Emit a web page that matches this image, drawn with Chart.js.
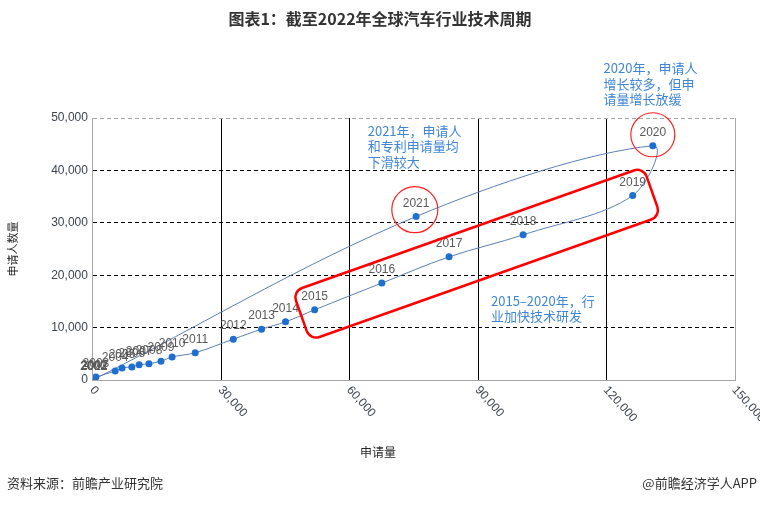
<!DOCTYPE html>
<html>
<head>
<meta charset="utf-8">
<script src="https://cdn.jsdelivr.net/npm/chart.js@4.4.1/dist/chart.umd.min.js"></script>
<style>
html,body{margin:0;padding:0;background:#fff}
#wrap{width:760px;height:505px;position:relative}
</style>
</head>
<body>
<div id="wrap"><canvas id="c" width="760" height="505"></canvas></div>
<script>
// 年份，申请量（x），申请人数量（y）
var years = ['2000','2001','2002','2003','2004','2005','2006','2007','2008','2009','2010',
             '2011','2012','2013','2014','2015','2016','2017','2018','2019','2020','2021','2022'];
var applications = [100, 200, 350, 700, 5200, 6800, 9100, 10800, 13100, 15900, 18500,
                    23900, 32800, 39400, 45000, 51800, 67500, 83200, 100500, 126100, 130800, 75500, 300];
var applicants = [80, 150, 250, 550, 1700, 2300, 2500, 2900, 3100, 3600, 4400,
                  5200, 7800, 9700, 11100, 13400, 18500, 23500, 27700, 35200, 44700, 31200, 150];

var xTicks = [0, 30000, 60000, 90000, 120000, 150000];
var yTicks = [0, 10000, 20000, 30000, 40000, 50000];

var points = [];
for (var i = 0; i < years.length; i++) {
  points.push({x: applications[i], y: applicants[i]});
}

var FONT = '"Liberation Sans", "Noto Sans CJK SC", sans-serif';
var CJK = '"Noto Sans CJK SC", "Liberation Sans", sans-serif';
Chart.defaults.font.family = FONT;

function fmt(v) {
  return v.toLocaleString('en-US');
}

// 年份标签
var yearLabels = {
  id: 'yearLabels',
  afterDatasetsDraw: function(chart) {
    var ctx = chart.ctx;
    var meta = chart.getDatasetMeta(0);
    ctx.save();
    ctx.font = '12px ' + FONT;
    ctx.fillStyle = '#595959';
    ctx.textAlign = 'center';
    ctx.textBaseline = 'middle';
    meta.data.forEach(function(pt, i) {
      ctx.fillText(years[i], pt.x, pt.y - 13);
    });
    ctx.restore();
  }
};

// 标注：红框、红圈、说明文字
var circles = [
  {x: 75200, y: 32500, r: 23},
  {x: 130800, y: 46800, r: 22}
];
var box = {x: 89650, y: 24100, w: 372, h: 52, angle: -19.5, r: 10};
var notes = [
  {x: 64200, y: 47600, lines: ['2021年，申请人', '和专利申请量均', '下滑较大']},
  {x: 119300, y: 59500, lines: ['2020年，申请人', '增长较多，但申', '请量增长放缓']},
  {x: 93000, y: 15100, lines: ['2015–2020年，行', '业加快技术研发']}
];

var decor = {
  id: 'decor',
  afterDraw: function(chart) {
    var ctx = chart.ctx;
    var xs = chart.scales.x, ys = chart.scales.y;
    ctx.save();

    // x 轴刻度标签（顺时针倾斜）
    ctx.font = '12px ' + FONT;
    ctx.fillStyle = '#3d4450';
    ctx.textAlign = 'left';
    ctx.textBaseline = 'middle';
    xTicks.forEach(function(v) {
      ctx.save();
      ctx.translate(xs.getPixelForValue(v) - 1, xs.bottom + 8);
      ctx.rotate(48 * Math.PI / 180);
      ctx.fillText(fmt(v), 0, 0);
      ctx.restore();
    });

    // 红色圆角框
    ctx.save();
    ctx.translate(xs.getPixelForValue(box.x), ys.getPixelForValue(box.y));
    ctx.rotate(box.angle * Math.PI / 180);
    ctx.beginPath();
    ctx.roundRect(-box.w / 2, -box.h / 2, box.w, box.h, box.r);
    ctx.strokeStyle = '#ff0000';
    ctx.lineWidth = 2.5;
    ctx.stroke();
    ctx.restore();

    // 红圈
    ctx.strokeStyle = '#ff2020';
    ctx.lineWidth = 1.2;
    circles.forEach(function(c) {
      ctx.beginPath();
      ctx.arc(xs.getPixelForValue(c.x), ys.getPixelForValue(c.y), c.r, 0, Math.PI * 2);
      ctx.stroke();
    });

    // 说明文字
    ctx.font = '13px ' + CJK;
    ctx.fillStyle = '#3f86d9';
    ctx.textAlign = 'left';
    ctx.textBaseline = 'middle';
    notes.forEach(function(n) {
      var px = xs.getPixelForValue(n.x), py = ys.getPixelForValue(n.y);
      n.lines.forEach(function(t, k) {
        ctx.fillText(t, px, py + k * 15.5);
      });
    });

    // 标题
    ctx.font = 'bold 16px ' + CJK;
    ctx.fillStyle = '#333333';
    ctx.textAlign = 'center';
    ctx.fillText('图表1：截至2022年全球汽车行业技术周期', 380, 19);

    // x 轴标题
    ctx.font = '12px ' + CJK;
    ctx.fillStyle = '#262626';
    ctx.fillText('申请量', 378, 452);

    // 页脚
    ctx.font = '13px ' + CJK;
    ctx.fillStyle = '#333333';
    ctx.textAlign = 'left';
    ctx.fillText('资料来源：前瞻产业研究院', 7, 483);
    ctx.textAlign = 'right';
    ctx.fillText('@前瞻经济学人APP', 757, 483);

    ctx.restore();
  }
};

new Chart(document.getElementById('c'), {
  type: 'scatter',
  data: {
    datasets: [{
      label: '技术周期',
      data: points,
      showLine: true,
      tension: 0.35,
      borderColor: '#5b7fb5',
      borderWidth: 1,
      pointRadius: 3.5,
      pointBackgroundColor: '#1f6fd1',
      pointBorderColor: '#1f6fd1',
      pointBorderWidth: 0
    }]
  },
  options: {
    responsive: false,
    animation: false,
    layout: {padding: {left: 2, right: 25, top: 118, bottom: 125}},
    plugins: {legend: {display: false}, tooltip: {enabled: false}, title: {display: false}},
    scales: {
      x: {
        type: 'linear',
        min: 0, max: 150000,
        afterBuildTicks: function(s) { s.ticks = xTicks.map(function(v) { return {value: v}; }); },
        ticks: {display: false},
        grid: {
          drawTicks: false,
          color: function(c) {
            if (c.tick.value === 0) return 'rgba(0,0,0,0)';
            if (c.tick.value === 150000) return '#a6a6a6';
            return '#000000';
          }
        },
        border: {color: '#a6a6a6'}
      },
      y: {
        type: 'linear',
        min: 0, max: 50000,
        afterBuildTicks: function(s) { s.ticks = yTicks.map(function(v) { return {value: v}; }); },
        ticks: {
          padding: 5,
          color: '#3d4450',
          font: {size: 12},
          callback: function(v) { return fmt(v); }
        },
        title: {
          display: true,
          text: '申请人数量',
          color: '#262626',
          font: {size: 11, family: CJK},
          padding: {top: 4, bottom: 27}
        },
        grid: {
          drawTicks: false,
          color: function(c) {
            if (c.tick.value === 0) return 'rgba(0,0,0,0)';
            if (c.tick.value === 50000) return '#a6a6a6';
            return '#000000';
          }
        },
        border: {color: '#a6a6a6', dash: [4, 3]}
      }
    }
  },
  plugins: [yearLabels, decor]
});
</script>
</body>
</html>
